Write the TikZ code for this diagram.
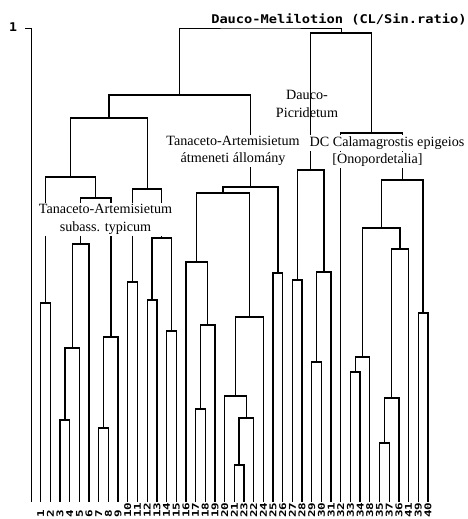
\documentclass[tikz,border=0pt]{standalone}
\usepackage{fontspec}
\setmainfont{Liberation Serif}
\newfontfamily\pixfont{DejaVu Sans Mono}
\usetikzlibrary{calc}
\newcommand\pix[3]{{\pixfont\bfseries\fontsize{#1}{#1}\selectfont\scalebox{#2}[1]{#3}}}
\tikzset{
  tree/.style={line width=1pt},
  thinline/.style={line width=.5pt},
  grp/.style={inner sep=1pt, align=center, font=\fontsize{10.6}{13}\selectfont},
  grpw/.style={grp, fill=white},
}
\begin{document}
\begin{tikzpicture}[x=.75pt, y=-.75pt]
\useasboundingbox (0,0) rectangle (468,519);
% axis
\coordinate (tick) at (25,28);
\coordinate (atop) at (31,28);
\coordinate (abot) at (31,502);
\draw[thinline] (tick) -- (atop) -- (abot);
\node[inner sep=0] (one) at (13,27) {\pix{9}{1.1}{1}};
\node[anchor=west, inner sep=0] (dmel) at (211,19) {\pix{9}{1.14}{Dauco-Melilotion (CL/Sin.ratio)}};

\begin{scope}[xshift=23.27pt, x=7.26pt]
% leaves
\foreach \s [count=\i] in {1,2,3,4,5,6,7,8,9,10,11,12,13,14,15,16,17,18,19,20,21,23,22,24,25,26,27,28,29,30,31,32,33,34,38,35,37,36,41,39,40}
{
  \coordinate (s\s) at (\i,502);
  \node[rotate=90, anchor=west, inner sep=0] (t\s) at (\i,518) {\pix{7}{1.35}{\s}};
}
% merges: name/left/right/height
\foreach \n/\a/\b/\h in {
  n12/s1/s2/303, n34/s3/s4/420, n35/n34/s5/348, n36/n35/s6/244,
  n78/s7/s8/428, n79/n78/s9/337, n39/n36/n79/198, n19/n12/n39/177,
  n1011/s10/s11/282, n1213/s12/s13/300, n1415/s14/s15/331,
  n1215/n1213/n1415/238, n1015/n1011/n1215/189, n115/n19/n1015/118,
  n1718/s17/s18/409, n1719/n1718/s19/325, n1619/s16/n1719/262,
  n2123/s21/s23/465, n2122/n2123/s22/418, n2022/s20/n2122/396,
  n2024/n2022/s24/317, n1624/n1619/n2024/193, n2526/s25/s26/273,
  n1626/n1624/n2526/187, n126/n115/n1626/95,
  n2728/s27/s28/280, n2930/s29/s30/362, n2931/n2930/s31/272,
  n2731/n2728/n2931/170,
  n3334/s33/s34/372, n3338/n3334/s38/357, n3537/s35/s37/443,
  n3536/n3537/s36/398, n3541/n3536/s41/249, n3341/n3338/n3541/228,
  n3940/s39/s40/313, n3340/n3341/n3940/180, n3240/s32/n3340/133,
  n2740/n2731/n3240/33}
{
  \coordinate (m) at ($(\a)!.5!(\b)$);
  \coordinate (h) at (0,\h);
  \coordinate (\n) at (m |- h);
  \draw[tree] (\a) |- (\n) -| (\b);
}
% root
\coordinate (m) at ($(n126)!.5!(n2740)$);
\coordinate (h) at (0,28);
\coordinate (root) at (m |- h);
\draw[thinline] (n126) |- (root) -| (n2740);
\end{scope}

% group labels
\node[grp] (dpic) at (307,104) {Dauco-\\Picridetum};
\node[grpw] (tatm) at (233,151) {Tanaceto-Artemisietum\\átmeneti állomány};
\node[grpw] (calg) at (387,143) {DC Calamagrostis epigeios};
\node[grpw] (onop) at (377.5,160) {[Onopordetalia]};
\node[grpw] (ttyp) at (105.5,219.5) {Tanaceto-Artemisietum\\subass. typicum};
\end{tikzpicture}
\end{document}
